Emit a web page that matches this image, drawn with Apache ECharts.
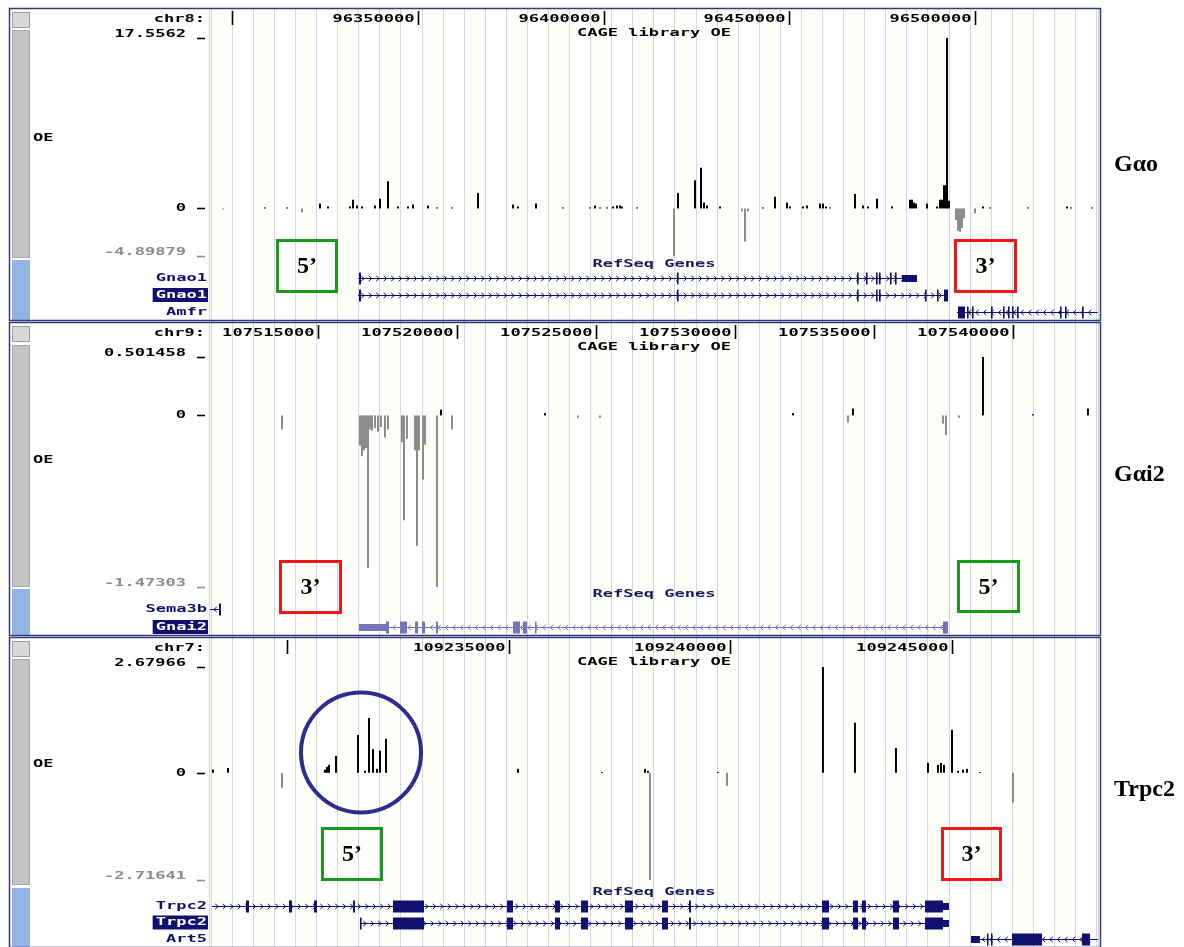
<!DOCTYPE html>
<html><head><meta charset="utf-8">
<script src="https://cdn.jsdelivr.net/npm/echarts@6/dist/echarts.min.js"></script>
<style>html,body{margin:0;padding:0;background:#fff}#c{width:1184px;height:947px}</style>
</head><body><div id="c"></div>
<script>
// ================= DATA =================
// Panel 1 : Gαo (chr8)
const p1Chrom = 'chr8:';
const p1Range = [96294078, 96533109];
const p1RulerTicks = [96300000, 96350000, 96400000, 96450000, 96500000];
const p1RulerLabels = ['', '96350000', '96400000', '96450000', '96500000'];
const p1YTicks = [17.5562, 0, -4.89879];
const p1YLabels = ['17.5562', '0', '-4.89879'];
const p1Signal = [
[96297577,-0.1],[96308883,0.1],[96314805,0.1],[96318843,-0.4],[96323688,0.5],[96325841,0.2],
[96331763,0.2],[96332571,0.9],[96333647,0.3],[96334993,0.2],[96338493,0.3],[96339839,1.0],[96341992,2.8],
[96344684,0.2],[96347376,0.2],[96348722,0.4],[96352759,0.3],[96355182,0.1],[96359220,0.1],[96366218,1.6],
[96375640,0.4],[96376985,0.2],[96381831,0.5],[96389099,0.1],[96396366,0.1],[96397712,0.3],[96399058,0.1],
[96400942,0.1],[96402558,0.2],[96403634,0.3],[96404442,0.3],[96404980,0.2],[96409018,0.1],
[96418978,-4.89879],[96420054,1.6],[96424630,2.9],[96426245,4.2],[96427053,0.6],[96427860,0.3],[96431360,0.2],
[96437282,-0.3],[96438089,-3.4],[96438897,-0.3],[96442935,0.1],[96446165,1.2],[96449395,0.6],[96450202,0.2],
[96453702,0.2],[96454778,0.3],[96458278,0.5],[96459085,0.5],[96459893,0.2],[96460970,0.1],
[96467699,1.5],[96469853,0.3],[96471198,0.2],[96473621,1.0],[96477659,0.2],
[96482504,0.9],[96483042,0.9],[96483581,0.6],[96484119,0.5],[96487080,0.5],[96489772,0.2],
[96490579,0.9],[96491118,0.9],[96491656,2.4],[96492194,2.4],[96492464,17.5562],[96493002,0.8],
[96494886,-1.2],[96495425,-2.3],[96495963,-2.4],[96496501,-2.0],[96497040,-1.0],[96500001,-0.5],
[96502154,0.2],[96504038,0.1],[96514267,0.1],[96524765,0.2],[96525842,0.1],[96531495,0.1]
];
const p1Genes = [
 {name:'Gnao1', row:0, strand:'+', start:96333917, end:96484388,
  exons:[[96334186,96334724],[96419785,96420054],[96468237,96468506],[96470660,96470929],[96473352,96473621],[96474159,96474428],[96477120,96477389],[96478466,96478735]],
  utrs:[[96480351,96484388]]},
 {name:'Gnao1', row:1, strand:'+', start:96333917, end:96492733,
  exons:[[96334186,96334724],[96419785,96420054],[96468237,96468506],[96473352,96473621],[96474159,96474428],[96486542,96486811],[96489772,96490041],[96491656,96492733]],
  utrs:[]},
 {name:'Amfr', row:2, strand:'-', start:96495155, end:96533000,
  exons:[[96495425,96497309],[96497847,96498116],[96499193,96499462],[96504308,96504577],[96507538,96507807],[96508884,96509153],[96509960,96510229],[96511306,96511575],[96522881,96523150],[96524227,96524496],[96528803,96529072]],
  utrs:[]}
];
const p1Highlight = 1;

// Panel 2 : Gαi2 (chr9)
const p2Chrom = 'chr9:';
const p2Range = [107511110, 107543062];
const p2RulerTicks = [107515000, 107520000, 107525000, 107530000, 107535000, 107540000];
const p2RulerLabels = ['107515000', '107520000', '107525000', '107530000', '107535000', '107540000'];
const p2YTicks = [0.501458, 0, -1.47303];
const p2YLabels = ['0.501458', '0', '-1.47303'];
const p2Signal = [
[107513701,-0.12],[107516507,-0.26],[107516579,-0.35],[107516651,-0.3],[107516723,-0.28],[107516795,-1.31],[107516867,-0.12],
[107516939,-0.13],[107517047,-0.11],[107517155,-0.14],[107517263,-0.1],[107517407,-0.19],[107517514,-0.12],
[107518018,-0.23],[107518090,-0.9],[107518198,-0.2],[107518486,-0.3],[107518558,-1.12],[107518630,-0.3],
[107518774,-0.55],[107518846,-0.25],[107519277,-1.47303],[107519421,0.05],[107519817,-0.12],
[107523163,0.02],[107524351,-0.02],[107525142,-0.02],[107532086,0.02],[107534065,-0.06],[107534245,0.06],
[107537483,-0.07],[107537591,-0.17],[107538059,-0.02],[107538923,0.501458],[107540722,0.01],[107542700,0.06]
];
const p2Genes = [
 {name:'Sema3b', row:0, strand:'-', start:107511110, end:107511506, exons:[[107511434,107511506]], utrs:[]},
 {name:'Gnai2', row:1, strand:'-', start:107516471, end:107537663,
  exons:[[107517442,107517550],[107517946,107518198],[107518486,107518594],[107518738,107518846],[107519241,107519313],[107522012,107522264],[107522372,107522516],[107522804,107522840],[107537483,107537663]],
  utrs:[[107516471,107517442]]}
];
const p2Highlight = 1;

// Panel 3 : Trpc2 (chr7)
const p3Chrom = 'chr7:';
const p3Range = [109228262, 109248296];
const p3RulerTicks = [109230000, 109235000, 109240000, 109245000];
const p3RulerLabels = ['', '109235000', '109240000', '109245000'];
const p3YTicks = [2.67966, 0, -2.71641];
const p3YLabels = ['2.67966', '0', '-2.71641'];
const p3Signal = [
[109228330,0.08],[109228668,0.12],[109229886,-0.38],[109230856,0.08],[109230902,0.15],[109230947,0.2],
[109231105,0.43],[109231601,0.96],[109231759,0.05],[109231849,1.39],[109231939,0.6],[109232030,0.1],
[109232097,0.56],[109232233,0.86],[109235210,0.1],[109237106,0.02],[109238076,0.1],[109238143,0.05],
[109238188,-2.71641],[109239722,0.02],[109239926,-0.33],[109242091,2.67966],[109242813,1.27],
[109243738,0.63],[109244460,0.25],[109244686,0.2],[109244753,0.25],[109244821,0.2],[109245002,1.09],
[109245137,0.05],[109245250,0.08],[109245340,0.1],[109245633,0.02],[109246378,-0.75]
];
const p3SharedExons = [[109232390,109233090],[109234962,109235098],[109236045,109236158],[109236632,109236790],[109237624,109237805],[109238459,109238594],[109239068,109239113],[109242069,109242227],[109242768,109242881],[109242971,109243061],[109243670,109243806],[109244392,109244798]];
const p3Genes = [
 {name:'Trpc2', row:0, strand:'+', start:109228307, end:109244934,
  exons:[[109229074,109229142],[109230044,109230112],[109230608,109230676],[109231488,109231533]].concat(p3SharedExons),
  utrs:[[109244798,109244934]]},
 {name:'Trpc2', row:1, strand:'+', start:109231646, end:109244934,
  exons:[[109231646,109231669]].concat(p3SharedExons),
  utrs:[[109244798,109244934]]},
 {name:'Art5', row:2, strand:'-', start:109245430, end:109248296,
  exons:[[109245791,109245814],[109245881,109245904],[109246355,109247032],[109247934,109248115]],
  utrs:[[109245430,109245633]]}
];
const p3Highlight = 1;

const trackTitle = 'CAGE library OE';
const geneTitle = 'RefSeq Genes';
const trackShort = 'OE';
const panelNames = ['Gαo', 'Gαi2', 'Trpc2'];

// ================= LAYOUT / STYLE =================
const L = 210, W = 888, R = 1184 - L - W;
const MONO = 'DejaVu Sans Mono', FS = 11, SX = 1.55;
const NAVY = '#10106e', LIGHT = '#7474b6';
const GREEN = '#1a9a1a', RED = '#ee1616';

const panels = [
 {top:8, bottom:320, chrom:p1Chrom, range:p1Range, rt:p1RulerTicks, rl:p1RulerLabels, yt:p1YTicks, yl:p1YLabels,
  signal:p1Signal, genes:p1Genes, hl:p1Highlight, dataTop:38, dataH:218, geneTop:269.5, geneH:51,
  oeY:138, refY:264, side:[[12,27],[30,257],[260,320]],
  boxes:[['5’',GREEN,276,239,62,54],['3’',RED,954,239,63,54]], tagY:165},
 {top:322, bottom:635, chrom:p2Chrom, range:p2Range, rt:p2RulerTicks, rl:p2RulerLabels, yt:p2YTicks, yl:p2YLabels,
  signal:p2Signal, genes:p2Genes, hl:p2Highlight, dataTop:357, dataH:230, geneTop:600, geneH:36,
  oeY:460, refY:594, side:[[326,341],[345,586],[589,635]],
  boxes:[['3’',RED,279,560,63,54],['5’',GREEN,957,560,63,53]], tagY:475},
 {top:637, bottom:947, chrom:p3Chrom, range:p3Range, rt:p3RulerTicks, rl:p3RulerLabels, yt:p3YTicks, yl:p3YLabels,
  signal:p3Signal, genes:p3Genes, hl:p3Highlight, dataTop:667, dataH:213, geneTop:898, geneH:52,
  oeY:764, refY:892, side:[[641,656],[659,884],[888,947]],
  boxes:[['5’',GREEN,321,827,62,54],['3’',RED,941,827,61,54]], tagY:790}
];

function geneColor(name){ return name === 'Gnai2' ? LIGHT : NAVY; }

function makeGeneRender(genes){
  return function(params, api){
    const g = genes[params.dataIndex];
    const c = geneColor(g.name);
    const p0 = api.coord([g.start, g.row]);
    const x0 = p0[0], y = Math.round(p0[1]) + 0.5;
    const x1 = api.coord([g.end, g.row])[0];
    const ch = [{type:'line', shape:{x1:x0, y1:y, x2:x1, y2:y}, style:{stroke:c, lineWidth:1}}];
    const d = g.strand === '+' ? 1 : -1;
    for (let x = x0 + 5; x < x1 - 3; x += 7.5) {
      ch.push({type:'polyline', shape:{points:[[x-1.8*d, y-2.6],[x+1.2*d, y],[x-1.8*d, y+2.6]]},
        style:{stroke:c, fill:null, lineWidth:1}});
    }
    const box = (e, h) => {
      const a = api.coord([e[0], g.row])[0], b = api.coord([e[1], g.row])[0];
      ch.push({type:'rect', shape:{x:a, y:y-h/2, width:Math.max(b-a, 1.6), height:h}, style:{fill:c}});
    };
    g.utrs.forEach(e => box(e, 7));
    g.exons.forEach(e => box(e, 12));
    return {type:'group', children:ch};
  };
}

const grid = [{left:211, right:R, top:9, height:938}];
const xAxis = [{type:'value', gridIndex:0, min:0, max:42.08, interval:1,
  axisLine:{show:false}, axisTick:{show:false}, axisLabel:{show:false},
  splitLine:{show:true, lineStyle:{color:'#d4d4ea', width:1}},
  splitArea:{show:true, areaStyle:{color:['#fffffa','#ffffff']}}}];
const yAxis = [{type:'value', gridIndex:0, min:0, max:1, show:false, splitLine:{show:false}}];
const series = [{type:'line', xAxisIndex:0, yAxisIndex:0, data:[], silent:true}];

panels.forEach((p, i) => {
  const gd = 1 + 2*i, gg = 2 + 2*i;
  grid.push({left:L, right:R, top:p.dataTop, height:p.dataH});
  grid.push({left:L, right:R, top:p.geneTop, height:p.geneH});
  const hidden = {axisLine:{show:false}, axisTick:{show:false}, axisLabel:{show:false}, splitLine:{show:false}};
  xAxis.push(Object.assign({type:'value', gridIndex:gd, min:p.range[0], max:p.range[1]}, hidden));
  xAxis.push(Object.assign({type:'value', gridIndex:gg, min:p.range[0], max:p.range[1]}, hidden));
  yAxis.push(Object.assign({type:'value', gridIndex:gd, min:Math.min(...p.yt), max:Math.max(...p.yt)}, hidden));
  yAxis.push(Object.assign({type:'value', gridIndex:gg, min:-0.5, max:p.genes.length - 0.5, inverse:true}, hidden));
  series.push({type:'bar', xAxisIndex:gd, yAxisIndex:gd, data:p.signal, barWidth:2, silent:true,
    itemStyle:{color:(q) => q.value[1] < 0 ? '#8c8c8c' : '#000000'}});
  series.push({type:'custom', xAxisIndex:gg, yAxisIndex:gg, silent:true, clip:true,
    data:p.genes.map(g => [g.start, g.row, g.end]), encode:{x:[0,2], y:1},
    renderItem:makeGeneRender(p.genes)});
});

const chart = echarts.init(document.getElementById('c'));
chart.setOption({animation:false, backgroundColor:'#ffffff', grid, xAxis, yAxis, series});

// ================= OVERLAYS (positions from the library's scales) =================
function txt(x, y, s, o){
  o = o || {};
  return {type:'text', x:x, y:y, scaleX:o.sx || SX, z:o.z || 40, silent:true,
    style:{text:s, fontFamily:o.ff || MONO, fontSize:o.fs || FS, fontWeight:o.fw || 'bold',
      fill:o.fill || '#000', align:o.align || 'left', verticalAlign:o.va || 'middle',
      textAlign:o.align || 'left', textVerticalAlign:o.va || 'middle'}};
}
function ln(x1, y1, x2, y2, c, w, z){
  return {type:'line', z:z || 35, silent:true, shape:{x1, y1, x2, y2}, style:{stroke:c, lineWidth:w || 1}};
}
function rc(x, y, w, h, fill, stroke, lw, z){
  return {type:'rect', z:z || 35, silent:true, shape:{x, y, width:w, height:h},
    style:{fill:fill || 'transparent', stroke:stroke || null, lineWidth:lw || 0}};
}

const G = [];
panels.forEach((p, i) => {
  const gd = 1 + 2*i, gg = 2 + 2*i;
  const CW = FS * 0.602 * SX;
  G.push(rc(10, p.top + 1, 199, p.bottom - p.top - 1, '#ffffff', null, 0, 5));
  G.push(ln(209.5, p.top + 1, 209.5, p.bottom, '#ead0d0', 1, 36));
  // side bar
  G.push(rc(12.5, p.side[0][0] + 0.5, 17, p.side[0][1] - p.side[0][0], '#d8d8d8', '#9c9c9c', 1, 36));
  G.push(rc(12.5, p.side[1][0] + 0.5, 17, p.side[1][1] - p.side[1][0], '#c4c4c4', '#a8a8a8', 1, 36));
  G.push(rc(12, p.side[2][0], 18, p.side[2][1] - p.side[2][0], '#93b3e3', null, 0, 36));
  // ruler
  G.push(txt(205, p.top + 11, p.chrom, {align:'right'}));
  p.rt.forEach((t, j) => {
    const px = Math.round(chart.convertToPixel({xAxisIndex:gd}, t)) + 0.5;
    G.push(ln(px, p.top + 3, px, p.top + 17, '#000', 1.6, 38));
    if (p.rl[j]) G.push(txt(px - 4, p.top + 11, p.rl[j], {align:'right'}));
  });
  G.push(txt(L + W/2, p.top + 25, trackTitle, {align:'center'}));
  G.push(txt(L + W/2, p.refY, geneTitle, {align:'center', fill:'#1a1a58'}));
  G.push(txt(33, p.oeY, trackShort));
  // y labels
  p.yt.forEach((v, j) => {
    const py = Math.round(chart.convertToPixel({yAxisIndex:gd}, v)) + 0.5;
    const col = v < 0 ? '#8c8c8c' : '#000';
    G.push(ln(197, py, 205, py, col, 1.6, 38));
    G.push(txt(186, v === 0 ? py : py + 1, p.yl[j], {align:'right', va: v === 0 ? 'middle' : 'bottom', fill:col}));
  });
  // gene labels
  p.genes.forEach((g, j) => {
    const py = chart.convertToPixel({yAxisIndex:gg}, g.row);
    if (j === p.hl) {
      const w = g.name.length * CW + 3;
      G.push(rc(207 - w, py - 7, w + 1, 14, NAVY, null, 0, 37));
      G.push(txt(207, py, g.name, {align:'right', fill:'#ffffff'}));
    } else {
      G.push(txt(207, py, g.name, {align:'right', fill:NAVY}));
    }
  });
  // annotation boxes
  p.boxes.forEach(b => {
    G.push(rc(b[2] + 1.5, b[3] + 1.5, b[4] - 3, b[5] - 3, null, b[1], 3, 45));
    G.push(txt(b[2] + b[4]/2, b[3] + b[5]/2 + 1, b[0], {align:'center', ff:'Liberation Serif', fs:24, fw:'bold', sx:1, z:46}));
  });
  G.push(rc(9.5, p.top + 0.5, 1091, p.bottom - p.top, null, '#38387e', 1.5, 50));
  G.push(txt(1114, p.tagY, panelNames[i], {ff:'Liberation Serif', fs:24, fw:'bold', sx:1}));
});
G.push({type:'circle', z:45, silent:true, shape:{cx:361, cy:752.5, r:60},
  style:{stroke:'#2b2e8c', lineWidth:4, fill:'transparent'}});

chart.setOption({graphic:{elements:G}});
</script>
</body></html>
